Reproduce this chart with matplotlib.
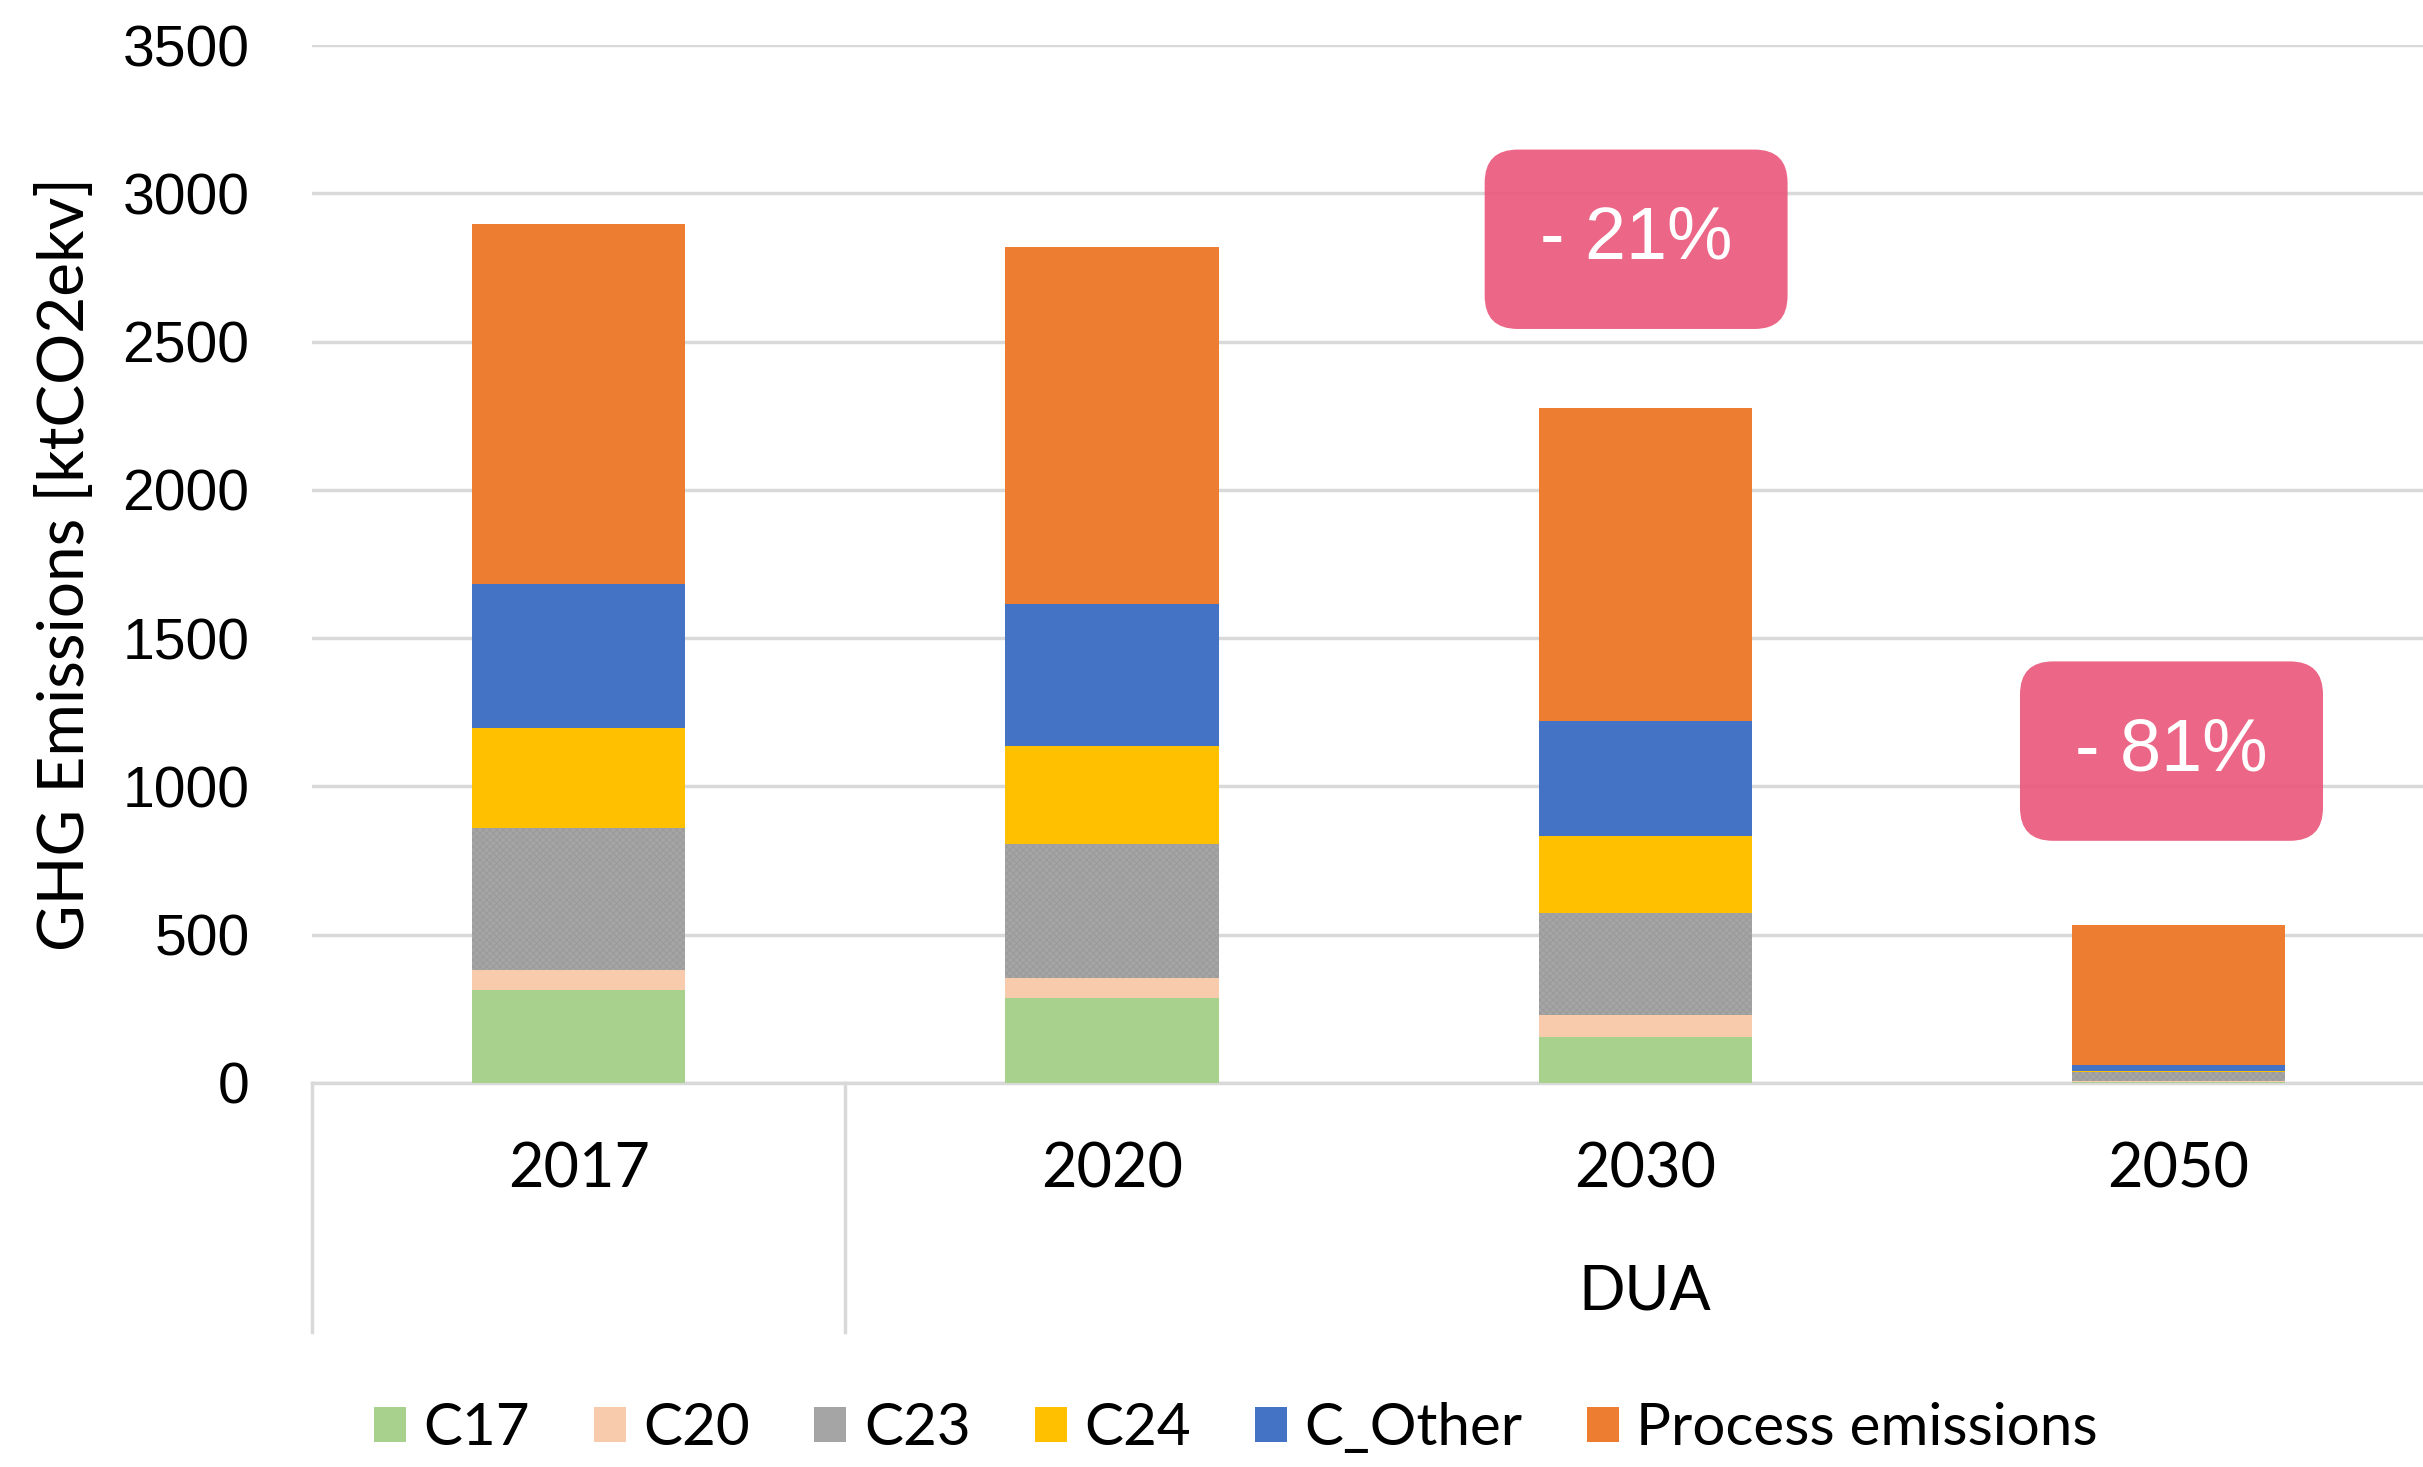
import matplotlib
matplotlib.use("Agg")
import matplotlib.pyplot as plt
import matplotlib.transforms as mtransforms
from matplotlib.patches import Patch
import numpy as np

# -----------------------------
# Data (ktCO2ekv)
# -----------------------------
years = ["2017", "2020", "2030", "2050"]
group_labels = ["", "DUA"]
group_edges = [-0.5, 0.5, 3.5]

c17 = [312, 286, 156, 2]
c20 = [68, 68, 73, 3]
c23 = [479, 453, 344, 32]
c24 = [339, 328, 260, 2]
c_other = [484, 480, 386, 22]
process = [1214, 1203, 1057, 470]

series_names = ["C17", "C20", "C23", "C24", "C_Other", "Process emissions"]
series_values = [c17, c20, c23, c24, c_other, process]
colors = ["#a9d18e", "#f8cbad", "#a5a5a5", "#ffc000", "#4472c4", "#ed7d31"]

labels_pct = ["- 21%", "- 81%"]
label_x = [1.983, 2.987]
label_y = [2845, 1119]

yticks = [0, 500, 1000, 1500, 2000, 2500, 3000, 3500]

# -----------------------------
# Figure
# -----------------------------
plt.rcParams["hatch.linewidth"] = 0.6
fig = plt.figure(figsize=(24.23, 14.67), dpi=100)
ax = fig.add_axes([0.1288, 0.2618, 0.8803, 0.7075])

x = np.arange(len(years))
bottom = np.zeros(len(years))
for name, vals, col in zip(series_names, series_values, colors):
    vals = np.array(vals, dtype=float)
    if name == "C23":
        ax.bar(x, vals, 0.4, bottom=bottom, color=col, edgecolor="#999999",
               linewidth=0, hatch="xxxxx", zorder=3)
    else:
        ax.bar(x, vals, 0.4, bottom=bottom, color=col, linewidth=0, zorder=3)
    bottom += vals

ax.set_xlim(-0.5, 3.5)
ax.set_ylim(0, 3500)
ax.set_yticks(yticks)
ax.set_yticklabels([str(v) for v in yticks], fontsize=41, family="Liberation Sans")
ax.tick_params(axis="y", length=0, pad=45)
ax.set_xticks([])
ax.yaxis.grid(True, color="#d9d9d9", linewidth=2.5, zorder=0)
ax.set_axisbelow(True)
for s in ["top", "right", "left"]:
    ax.spines[s].set_visible(False)
ax.spines["bottom"].set_color("#d9d9d9")
ax.spines["bottom"].set_linewidth(2.5)

ax.set_ylabel("GHG Emissions [ktCO2ekv]", fontsize=46, family="Lato", labelpad=20)

# multi-level category axis
trans = mtransforms.blended_transform_factory(ax.transData, ax.transAxes)
for i, yr in enumerate(years):
    ax.text(i, -0.084, yr, transform=trans, ha="center", va="center",
            fontsize=44, family="Lato")
for j, g in enumerate(group_labels):
    xc = (group_edges[j] + group_edges[j + 1]) / 2
    ax.text(xc, -0.201, g, transform=trans, ha="center", va="center",
            fontsize=44, family="Lato")
for e in group_edges:
    ax.plot([e, e], [0, -0.24], transform=trans, color="#d9d9d9",
            linewidth=2.5, clip_on=False)

# reduction labels
for lx, ly, t in zip(label_x, label_y, labels_pct):
    ax.text(lx, ly, t, ha="center", va="center", color="white",
            fontsize=53, family="Liberation Sans", zorder=5,
            bbox=dict(boxstyle="round,pad=0.75,rounding_size=0.45",
                      fc="#eb5a7d", ec="none", alpha=0.92))

handles = [Patch(facecolor=c, edgecolor="none") for c in colors]
fig.legend(handles, series_names, loc="center", bbox_to_anchor=(0.51, 0.026),
           ncol=6, frameon=False, prop={"family": "Lato", "size": 42},
           handlelength=0.55, handleheight=0.55, handletextpad=0.3,
           columnspacing=1.1, borderaxespad=0, borderpad=0)

fig.savefig("out.png", dpi=100)
